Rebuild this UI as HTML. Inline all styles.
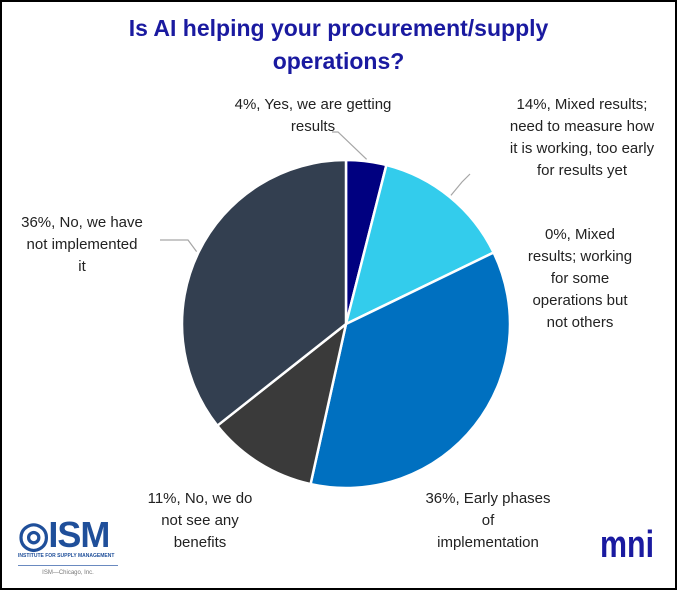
<!DOCTYPE html>
<html><head><meta charset="utf-8"><style>
body{margin:0;background:#fff}
#wrap{position:relative;width:673px;height:586px;border:2px solid #000;overflow:hidden;font-family:"Liberation Sans",sans-serif}
.t{position:absolute;text-align:center;color:#222;font-size:15px;line-height:22px}
</style></head><body>
<div id="wrap">
<div style="position:absolute;left:0;top:10px;width:673px;text-align:center;color:#1a1aa0;font-weight:bold;font-size:23px;line-height:33px">Is AI helping your procurement/supply<br>operations?</div>
<svg id="pie" width="673" height="586" style="position:absolute;left:0;top:0"></svg>
<div class="t" style="left:196px;top:92px;width:230px">4%, Yes, we are getting<br>results</div>
<div class="t" style="left:470px;top:92px;width:220px">14%, Mixed results;<br>need to measure how<br>it is working, too early<br>for results yet</div>
<div class="t" style="left:508px;top:222px;width:140px">0%, Mixed<br>results; working<br>for some<br>operations but<br>not others</div>
<div class="t" style="left:406px;top:486px;width:160px">36%, Early phases<br>of<br>implementation</div>
<div class="t" style="left:118px;top:486px;width:160px">11%, No, we do<br>not see any<br>benefits</div>
<div class="t" style="left:0px;top:210px;width:160px">36%, No, we have<br>not implemented<br>it</div>
<div style="position:absolute;left:16px;top:515px;width:100px">
<div style="color:#1f4f9a;font-weight:bold;font-size:36px;line-height:36px;font-family:'Liberation Sans Narrow','Liberation Sans',sans-serif;letter-spacing:-1px">◎ISM</div>
<div style="font-size:5px;color:#1f4f9a;font-weight:bold">INSTITUTE FOR SUPPLY MANAGEMENT</div>
<div style="border-top:1px solid #6a8ac0;margin:6px 0 4px"></div>
<div style="font-size:6px;color:#777;text-align:center">ISM—Chicago, Inc.</div></div>
<div style="position:absolute;left:598px;top:522px;color:#1a1aa0;font-weight:bold;font-size:38px;transform:scaleX(0.8);transform-origin:left;font-family:'Liberation Sans Narrow','Liberation Sans',sans-serif">mni</div>
</div>
<script>
const categories=["Yes, we are getting results","Mixed results; too early","Mixed results; some operations","Early phases of implementation","No, we do not see any benefits","No, we have not implemented it"];
const values=[4,14,0,36,11,36];
const colors=["#000080","#33ccec","#2e75b6","#0070c0","#3a3a3a","#333f50"];
const svg=document.getElementById('pie');const NS="http://www.w3.org/2000/svg";
const cx=344,cy=322,r=164;
const total=values.reduce((a,b)=>a+b,0);
function pt(a,rr){return [cx+rr*Math.sin(a),cy-rr*Math.cos(a)];}
let a0=0;const mids=[];
values.forEach((v,i)=>{const a1=a0+v/total*2*Math.PI;mids.push((a0+a1)/2);
 if(v>0){const p0=pt(a0,r),p1=pt(a1,r);const p=document.createElementNS(NS,'path');
 p.setAttribute('d',`M${cx},${cy}L${p0[0]},${p0[1]}A${r},${r} 0 ${a1-a0>Math.PI?1:0} 1 ${p1[0]},${p1[1]}Z`);
 p.setAttribute('fill',colors[i]);p.setAttribute('stroke','#fff');p.setAttribute('stroke-width','2.5');
 
 
 svg.appendChild(p);}
 a0=a1;});
const leaders=[[0,[330,130]],[1,[468,172]],[5,[158,238]]];
leaders.forEach(([i,end])=>{const s=pt(mids[i],r+2);const l=document.createElementNS(NS,'polyline');
 const m=i===5?[end[0]+28,end[1]]:(i===0?[end[0]+6,end[1]]:[end[0]-8,end[1]+8]);
 l.setAttribute('points',`${s[0]},${s[1]} ${m[0]},${m[1]} ${end[0]},${end[1]}`);
 l.setAttribute('fill','none');l.setAttribute('stroke','#a6a6a6');l.setAttribute('stroke-width','1.2');
 
 
 svg.appendChild(l);});
</script>
</body></html>
